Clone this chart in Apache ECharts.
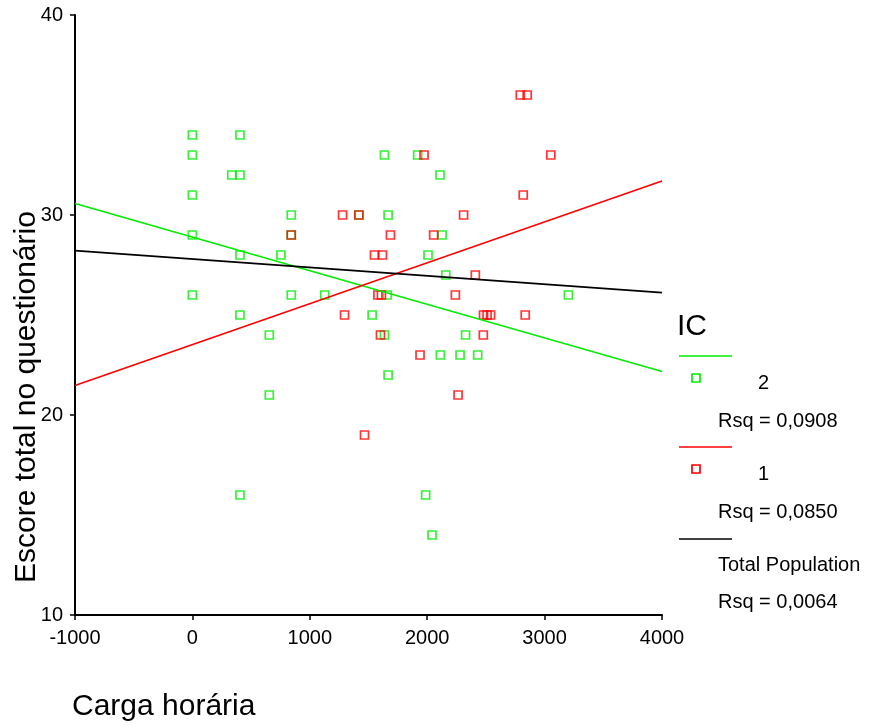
<!DOCTYPE html>
<html>
<head>
<meta charset="utf-8">
<script src="https://cdn.jsdelivr.net/npm/echarts@6/dist/echarts.min.js"></script>
<style>
  html, body { margin: 0; padding: 0; background: #fff; }
  #main { width: 873px; height: 727px; }
</style>
</head>
<body>
<div id="main"></div>
<script>
// pontos IC = 2 (verde)
const ic2X = [0, 0, 0, 0, 0, 405, 405, 405, 405, 405, 335, 655, 655, 754, 842, 842, 842, 1128, 1418, 1531,
  1636, 1636, 1660, 1667, 1667, 1919, 1987, 2007, 2041, 2109, 2127, 2158, 2112, 2280, 2327, 2430, 3203]
const ic2Y = [34, 33, 31, 29, 26, 34, 32, 28, 25, 16, 32, 24, 21, 28, 30, 29, 26, 26, 30, 25,
  33, 24, 26, 30, 22, 33, 16, 28, 14, 32, 29, 27, 23, 23, 24, 23, 26]
// pontos IC = 1 (vermelho)
const ic1X = [842, 1279, 1418, 1296, 1466, 1551, 1619, 1580, 1610, 1602, 1687, 1939, 1973, 2055, 2240,
  2263, 2310, 2410, 2478, 2480, 2510, 2540, 2793, 2852, 2818, 2835, 3053]
const ic1Y = [29, 30, 30, 25, 19, 28, 28, 26, 26, 24, 29, 23, 33, 29, 26,
  21, 30, 27, 24, 25, 25, 25, 36, 36, 31, 25, 33]
// retas de regressão (extremos)
const fitX = [-1000, 4000]
const fit2Y = [30.58, 22.17]
const fit1Y = [21.47, 31.70]
const fitTotalY = [28.22, 26.12]
// eixos
const xTicks = [-1000, 0, 1000, 2000, 3000, 4000]
const yTicks = [10, 20, 30, 40]
const rsq = ['Rsq = 0,0908', 'Rsq = 0,0850', 'Rsq = 0,0064']

const GREEN = '#00ee00'
const RED = '#ff0000'
const FONT = '"Liberation Sans", Arial, sans-serif'

const zip = (xs, ys) => xs.map((x, i) => [x, ys[i]])

const chartDom = document.getElementById('main')
const myChart = echarts.init(chartDom)

const pointStyle = (c) => ({
  type: 'scatter',
  symbol: 'rect',
  symbolSize: 8,
  itemStyle: { color: 'rgba(0,0,0,0)', borderColor: c, borderWidth: 1.7 },
  silent: true,
  z: 2,
})
const lineStyle = (c) => ({
  type: 'line',
  showSymbol: false,
  lineStyle: { color: c, width: 1.6 },
  silent: true,
  z: 3,
})

const txt = (x, y, s, size) => ({
  type: 'text',
  left: x,
  top: y,
  style: { text: s, font: size + 'px ' + FONT, fill: '#000' },
})
const legLine = (y, c) => ({
  type: 'line',
  shape: { x1: 679, y1: y, x2: 732, y2: y },
  style: { stroke: c, lineWidth: 1.6 },
})
const legBox = (y, c) => ({
  type: 'rect',
  shape: { x: 692, y: y - 4, width: 8, height: 8 },
  style: { fill: 'none', stroke: c, lineWidth: 1.7 },
})

var option = {
  animation: false,
  backgroundColor: '#fff',
  grid: { left: 75, right: 211, top: 15, bottom: 112, containLabel: false },
  xAxis: {
    type: 'value',
    min: xTicks[0],
    max: xTicks[xTicks.length - 1],
    interval: 1000,
    splitLine: { show: false },
    axisLine: { onZero: false, lineStyle: { color: '#000', width: 2 } },
    axisTick: { length: 5, lineStyle: { color: '#000', width: 1.5 } },
    axisLabel: { color: '#000', fontSize: 20, fontFamily: FONT, margin: 13, formatter: (v) => String(v) },
  },
  yAxis: {
    type: 'value',
    min: yTicks[0],
    max: yTicks[yTicks.length - 1],
    interval: 10,
    splitLine: { show: false },
    axisLine: { onZero: false, lineStyle: { color: '#000', width: 2 } },
    axisTick: { length: 5, lineStyle: { color: '#000', width: 1.5 } },
    axisLabel: { color: '#000', fontSize: 20, fontFamily: FONT, margin: 12, formatter: (v) => String(v) },
  },
  series: [
    Object.assign(pointStyle(GREEN), { name: '2', data: zip(ic2X, ic2Y) }),
    Object.assign(pointStyle(RED), { name: '1', data: zip(ic1X, ic1Y) }),
    Object.assign(lineStyle(GREEN), { name: 'fit2', data: zip(fitX, fit2Y) }),
    Object.assign(lineStyle(RED), { name: 'fit1', data: zip(fitX, fit1Y) }),
    Object.assign(lineStyle('#000'), { name: 'total', data: zip(fitX, fitTotalY) }),
  ],
  graphic: [
    // títulos dos eixos
    {
      type: 'text',
      x: 12,
      y: 583,
      rotation: Math.PI / 2,
      style: { text: 'Escore total no questionário', font: '30px ' + FONT, fill: '#000', verticalAlign: 'top' },
    },
    txt(72, 692, 'Carga horária', 30),
    // legenda
    txt(677, 312, 'IC', 30),
    legLine(356, GREEN),
    legBox(378, GREEN),
    txt(758, 373, '2', 20),
    txt(718, 411, rsq[0], 20),
    legLine(447, RED),
    legBox(469, RED),
    txt(758, 464, '1', 20),
    txt(718, 502, rsq[1], 20),
    legLine(539, '#000'),
    txt(718, 555, 'Total Population', 20),
    txt(718, 592, rsq[2], 20),
  ],
}
option && myChart.setOption(option)
</script>
</body>
</html>
